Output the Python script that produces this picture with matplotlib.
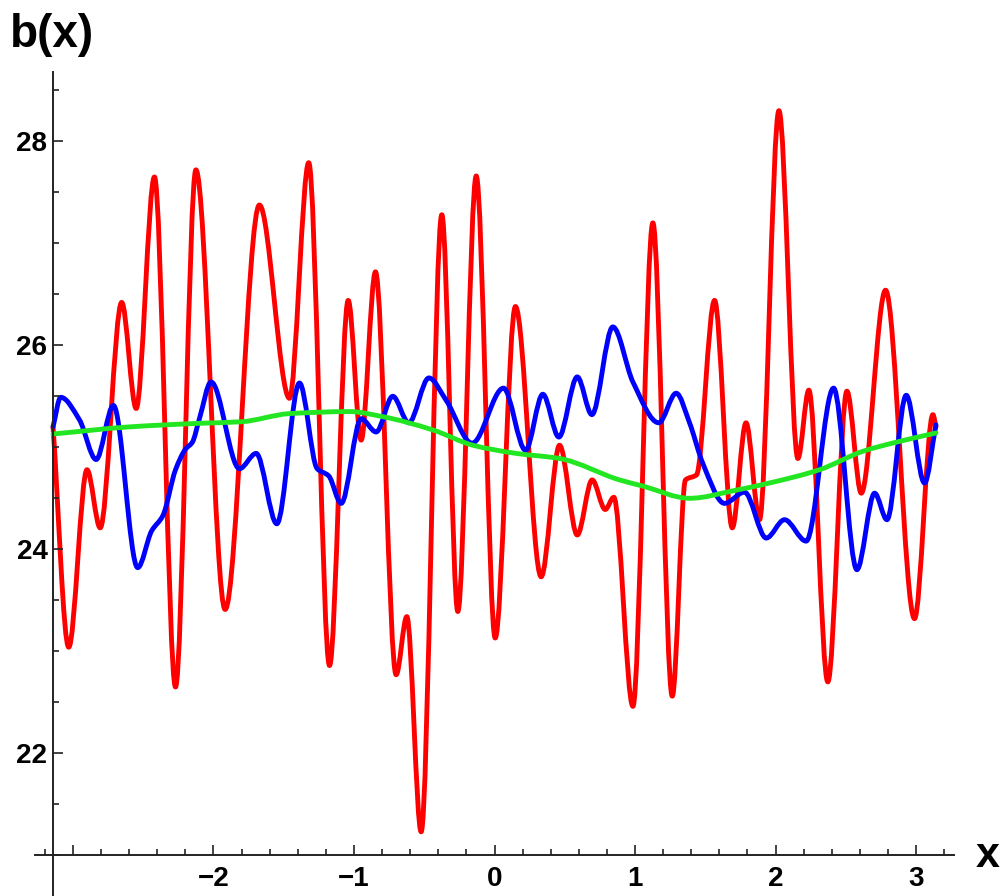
import numpy as np
import matplotlib.pyplot as plt
from matplotlib.path import Path
from matplotlib.patches import PathPatch
from matplotlib.ticker import MultipleLocator, FixedLocator, FixedFormatter

plt.rcParams["font.family"] = ["Liberation Sans", "DejaVu Sans"]

# values (turning points and shoulders)
red_x = [-3.1416, -3.03, -2.90, -2.806, -2.653, -2.55, -2.42, -2.27, -2.125, -1.917,
         -1.673, -1.459, -1.322, -1.174, -1.041, -0.949, -0.847, -0.70, -0.624,
         -0.522, -0.375, -0.261, -0.13, 0.005, 0.149, 0.332, 0.463, 0.589, 0.695,
         0.788, 0.849, 0.985, 1.127, 1.265, 1.359, 1.438, 1.566, 1.692, 1.79,
         1.886, 2.024, 2.159, 2.237, 2.372, 2.508, 2.61, 2.783, 2.989, 3.12, 3.1416]
red_y = [25.2, 23.04, 24.78, 24.21, 26.42, 25.38, 27.65, 22.65, 27.72, 23.41,
         27.375, 25.48, 27.79, 22.86, 26.44, 25.07, 26.72, 22.77, 23.34,
         21.23, 27.28, 23.39, 27.66, 23.13, 26.38, 23.73, 25.02, 24.14, 24.68,
         24.39, 24.51, 22.46, 27.2, 22.56, 24.68, 24.73, 26.44, 24.21, 25.24,
         24.29, 28.30, 24.89, 25.56, 22.70, 25.55, 24.55, 26.54, 23.32, 25.32, 25.2]

blue_x = [-3.1416, -3.087, -2.954, -2.835, -2.712, -2.539, -2.44, -2.36, -2.27, -2.20,
          -2.15, -2.10, -2.017, -1.815, -1.696, -1.549, -1.388, -1.262, -1.18, -1.091,
          -0.949, -0.842, -0.724, -0.61, -0.467, -0.344, -0.159, 0.064, 0.221, 0.344,
          0.458, 0.589, 0.693, 0.842, 0.985, 1.169, 1.293, 1.388, 1.483, 1.637,
          1.779, 1.934, 2.064, 2.218, 2.413, 2.579, 2.705, 2.793, 2.930, 3.06, 3.1416]
blue_y = [25.2, 25.49, 25.27, 24.88, 25.41, 23.82, 24.18, 24.33, 24.78, 24.98,
          25.05, 25.28, 25.64, 24.79, 24.94, 24.25, 25.63, 24.79, 24.72, 24.45,
          25.28, 25.15, 25.50, 25.24, 25.68, 25.46, 25.04, 25.58, 24.97, 25.52,
          25.10, 25.69, 25.32, 26.18, 25.64, 25.24, 25.53, 25.24, 24.84, 24.45,
          24.56, 24.11, 24.29, 24.08, 25.58, 23.80, 24.55, 24.29, 25.51, 24.65, 25.22]

green_x = [-3.1416, -2.598, -2.1, -1.803, -1.459, -1.032, -0.795, -0.439, -0.154, 0.154,
           0.463, 0.89, 1.055, 1.388, 1.72, 1.957, 2.313, 2.62, 2.859, 3.1416]
green_y = [25.13, 25.2, 25.235, 25.25, 25.33, 25.35, 25.30, 25.17, 25.02, 24.94,
           24.89, 24.68, 24.62, 24.50, 24.58, 24.65, 24.78, 24.96, 25.05, 25.14]


def smooth_path(xs, ys):
    """Bezier path through the points, flat at turning points (monotone tangents)."""
    xs = np.asarray(xs, float)
    ys = np.asarray(ys, float)
    h = np.diff(xs)
    d = np.diff(ys) / h
    m = np.zeros(len(xs))
    m[0], m[-1] = d[0], d[-1]
    for i in range(1, len(xs) - 1):
        if d[i - 1] * d[i] > 0:
            w1 = 2 * h[i] + h[i - 1]
            w2 = h[i] + 2 * h[i - 1]
            m[i] = (w1 + w2) / (w1 / d[i - 1] + w2 / d[i])
    verts = [(xs[0], ys[0])]
    codes = [Path.MOVETO]
    for i in range(len(h)):
        k = h[i] / 3
        verts += [(xs[i] + k, ys[i] + m[i] * k),
                  (xs[i + 1] - k, ys[i + 1] - m[i + 1] * k),
                  (xs[i + 1], ys[i + 1])]
        codes += [Path.CURVE4] * 3
    return Path(verts, codes)


fig = plt.figure(figsize=(10, 8.96), dpi=100)
ax = fig.add_axes([0.035, 0.0, 0.919, 824 / 896])
ax.set_xlim(-3.27, 3.27)
ax.set_ylim(20.601, 28.679)

for xs, ys, col in [(red_x, red_y, "#ff0000"),
                    (blue_x, blue_y, "#0000ff"),
                    (green_x, green_y, "#22e622")]:
    ax.add_patch(PathPatch(smooth_path(xs, ys), facecolor="none", edgecolor=col,
                           lw=3.5, capstyle="round", joinstyle="round"))

for side in ["top", "right"]:
    ax.spines[side].set_visible(False)
ax.spines["left"].set_position(("data", -np.pi))
ax.spines["bottom"].set_position(("data", 21))
for side in ["left", "bottom"]:
    ax.spines[side].set_linewidth(1.4)
    ax.spines[side].set_color("#222222")

ax.xaxis.set_major_locator(FixedLocator([-3, -2, -1, 0, 1, 2, 3]))
ax.xaxis.set_major_formatter(FixedFormatter(["", "\u22122", "\u22121", "0", "1", "2", "3"]))
ax.xaxis.set_minor_locator(MultipleLocator(0.2))
ax.yaxis.set_major_locator(FixedLocator([22, 24, 26, 28]))
ax.yaxis.set_minor_locator(MultipleLocator(0.5))

ax.tick_params(which="both", direction="in", color="#222222", width=1.2)
ax.tick_params(which="major", length=7.5)
ax.tick_params(which="minor", length=4.5)
ax.tick_params(axis="x", which="major", pad=8, labelsize=20)
ax.tick_params(axis="y", which="major", pad=4, labelsize=20)
for lab in ax.get_xticklabels() + ax.get_yticklabels():
    lab.set_fontweight("bold")

fig.text(0.010, 1 - 47 / 896, "b(x)", fontsize=33, fontweight="bold",
         ha="left", va="baseline")
fig.text(0.988, 1 - 867 / 896, "x", fontsize=31, fontweight="bold",
         ha="center", va="baseline")

fig.savefig("out.png", dpi=100)
